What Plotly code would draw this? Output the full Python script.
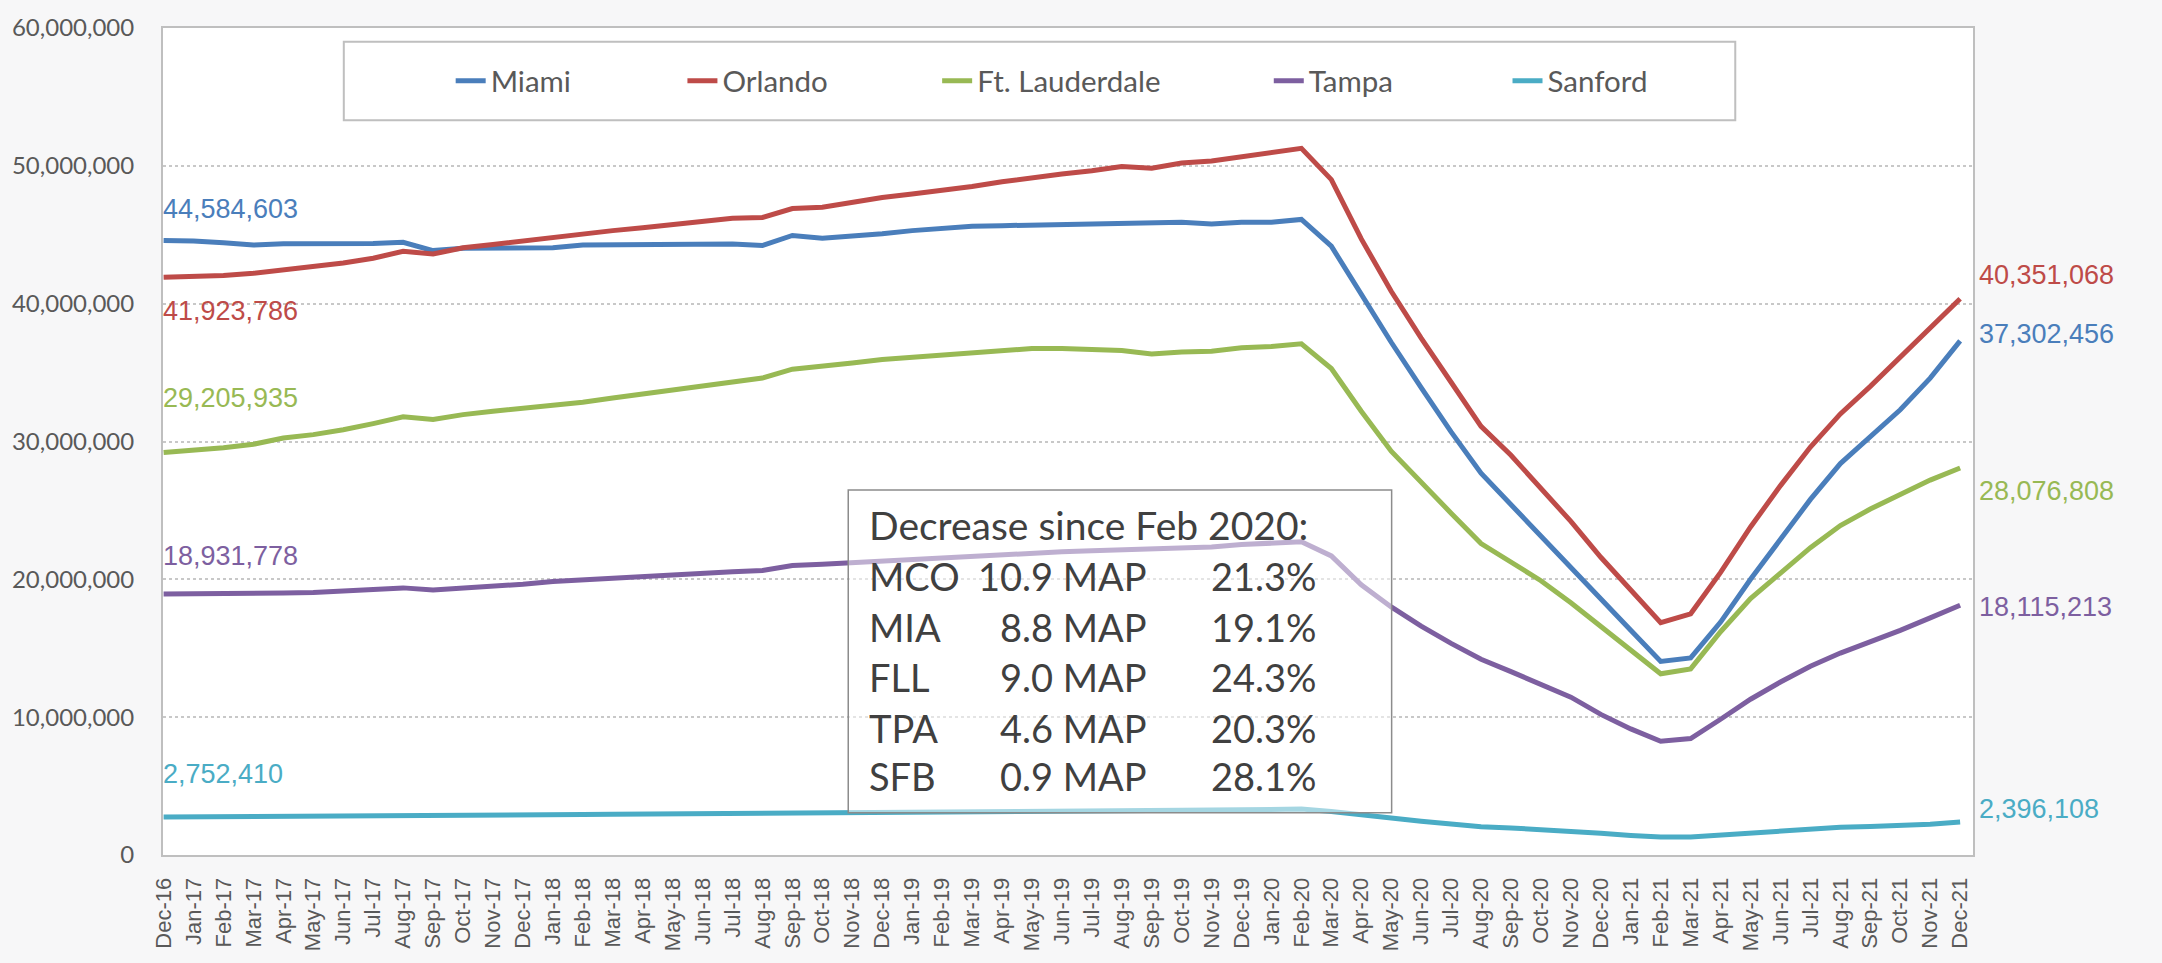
import plotly.graph_objects as go

# ---------------- data ----------------
months = ["Dec-16",
          "Jan-17", "Feb-17", "Mar-17", "Apr-17", "May-17", "Jun-17", "Jul-17", "Aug-17", "Sep-17", "Oct-17", "Nov-17", "Dec-17",
          "Jan-18", "Feb-18", "Mar-18", "Apr-18", "May-18", "Jun-18", "Jul-18", "Aug-18", "Sep-18", "Oct-18", "Nov-18", "Dec-18",
          "Jan-19", "Feb-19", "Mar-19", "Apr-19", "May-19", "Jun-19", "Jul-19", "Aug-19", "Sep-19", "Oct-19", "Nov-19", "Dec-19",
          "Jan-20", "Feb-20", "Mar-20", "Apr-20", "May-20", "Jun-20", "Jul-20", "Aug-20", "Sep-20", "Oct-20", "Nov-20", "Dec-20",
          "Jan-21", "Feb-21", "Mar-21", "Apr-21", "May-21", "Jun-21", "Jul-21", "Aug-21", "Sep-21", "Oct-21", "Nov-21", "Dec-21"]

# passengers, millions (rolling 12-month totals)
miami = [44.584603,
         44.55, 44.42, 44.25, 44.35, 44.35, 44.38, 44.36, 44.45, 43.85, 44.02, 44.05, 44.05,
         44.05, 44.25, 44.27, 44.28, 44.30, 44.32, 44.32, 44.22, 44.95, 44.75, 44.90, 45.08,
         45.30, 45.48, 45.62, 45.66, 45.70, 45.72, 45.76, 45.78, 45.80, 45.90, 45.78, 45.90,
         45.90, 46.11, 44.17, 40.70, 37.20, 33.90, 30.70, 27.70, 25.40, 23.10, 20.90, 18.60,
         16.30, 14.04, 14.30, 16.90, 20.00, 22.90, 25.80, 28.40, 30.30, 32.30, 34.60, 37.302456]

orlando = [41.923786,
           41.95, 42.05, 42.20, 42.45, 42.70, 42.95, 43.30, 43.80, 43.60, 44.05, 44.30, 44.55,
           44.80, 45.10, 45.30, 45.50, 45.75, 45.96, 46.20, 46.25, 46.90, 47.00, 47.35, 47.70,
           47.95, 48.20, 48.50, 48.85, 49.15, 49.40, 49.65, 49.95, 49.82, 50.20, 50.35, 50.65,
           50.90, 51.27, 49.00, 44.70, 40.90, 37.50, 34.30, 31.10, 29.00, 26.60, 24.20, 21.60,
           19.20, 16.85, 17.50, 20.50, 23.80, 26.80, 29.60, 32.00, 34.00, 36.10, 38.20, 40.351068]

ft_lauderdale = [29.205935,
                 29.35, 29.55, 29.80, 30.25, 30.50, 30.85, 31.30, 31.80, 31.60, 31.95, 32.20, 32.40,
                 32.60, 32.85, 33.15, 33.45, 33.75, 34.05, 34.35, 34.60, 35.25, 35.45, 35.70, 35.95,
                 36.10, 36.25, 36.45, 36.60, 36.75, 36.75, 36.72, 36.60, 36.35, 36.50, 36.55, 36.80,
                 36.90, 37.09, 35.30, 32.20, 29.30, 27.00, 24.80, 22.60, 21.30, 19.90, 18.30, 16.60,
                 14.90, 13.15, 13.50, 16.20, 18.60, 20.40, 22.30, 23.90, 25.10, 26.15, 27.20, 28.076808]

tampa = [18.931778,
         18.93, 18.92, 18.93, 19.00, 19.05, 19.15, 19.25, 19.38, 19.22, 19.35, 19.45, 19.65,
         19.85, 19.98, 20.12, 20.25, 20.38, 20.47, 20.55, 20.64, 21.00, 21.10, 21.22, 21.35,
         21.45, 21.55, 21.70, 21.82, 21.92, 22.00, 22.08, 22.15, 22.22, 22.30, 22.35, 22.52,
         22.60, 22.73, 21.70, 19.60, 18.00, 16.60, 15.35, 14.20, 13.30, 12.40, 11.45, 10.20,
         9.15, 8.25, 8.45, 9.85, 11.30, 12.55, 13.70, 14.65, 15.45, 16.30, 17.20, 18.115213]

sanford = [2.752410,
           2.76, 2.77, 2.77, 2.79, 2.81, 2.83, 2.85, 2.88, 2.84, 2.86, 2.88, 2.90,
           2.92, 2.94, 2.96, 2.97, 2.99, 3.00, 3.02, 3.04, 3.06, 3.07, 3.10, 3.11,
           3.12, 3.13, 3.14, 3.16, 3.17, 3.18, 3.20, 3.21, 3.22, 3.24, 3.26, 3.28,
           3.30, 3.33, 3.15, 2.90, 2.68, 2.45, 2.25, 2.05, 1.96, 1.86, 1.72, 1.58,
           1.42, 1.30, 1.30, 1.45, 1.60, 1.76, 1.92, 2.02, 2.07, 2.13, 2.24, 2.396108]

series_names = ["Miami", "Orlando", "Ft. Lauderdale", "Tampa", "Sanford"]
series_values = [miami, orlando, ft_lauderdale, tampa, sanford]

box_title = "Decrease since Feb 2020:"
box_codes = ["MCO", "MIA", "FLL", "TPA", "SFB"]
box_map = ["10.9 MAP", "8.8 MAP", "9.0 MAP", "4.6 MAP", "0.9 MAP"]
box_pct = ["21.3%", "19.1%", "24.3%", "20.3%", "28.1%"]

y_ticks = [0, 10_000_000, 20_000_000, 30_000_000, 40_000_000, 50_000_000, 60_000_000]

# ---------------- styles ----------------
colors = {"Miami": "#4A7EBB", "Orlando": "#BE4B48", "Ft. Lauderdale": "#98B954",
          "Tampa": "#7D5FA0", "Sanford": "#4AACC5"}
# label offsets in px (yshift) at the first and last point
first_label_shift = {"Miami": 31, "Orlando": -34, "Ft. Lauderdale": 54, "Tampa": 38, "Sanford": 43}
last_label_shift = {"Miami": 7, "Orlando": 24, "Ft. Lauderdale": -23, "Tampa": -2, "Sanford": 13}
legend_text_px = {"Miami": 493, "Orlando": 725, "Ft. Lauderdale": 980, "Tampa": 1312, "Sanford": 1551}

W, H = 2162, 963
PL, PR, PT, PB = 161, 1973, 21, 864  # plot area in px


def px_x(px):
    return (px - PL) / (PR - PL)


def px_y(py):
    return (PB - py) / (PB - PT)


TICK_FONT = "Liberation Sans, Arial, sans-serif"
CAL_FONT = "Lato, Open Sans, sans-serif"

fig = go.Figure()
for k, (name, vals) in enumerate(zip(series_names, series_values)):
    fig.add_trace(go.Scatter(
        x=months, y=[v * 1e6 for v in vals], mode="lines", name=name,
        line=dict(color=colors[name], width=5),
        legend="legend" if k == 0 else f"legend{k + 1}",
    ))

annotations = []
for name, vals in zip(series_names, series_values):
    annotations.append(dict(
        x=months[0], y=vals[0] * 1e6, xref="x", yref="y",
        text=f"{round(vals[0] * 1e6):,}", showarrow=False,
        xanchor="left", yanchor="middle", xshift=-3, yshift=first_label_shift[name],
        font=dict(family=TICK_FONT, size=27, color=colors[name])))
    annotations.append(dict(
        x=months[-1], y=vals[-1] * 1e6, xref="x", yref="y",
        text=f"{round(vals[-1] * 1e6):,}", showarrow=False,
        xanchor="left", yanchor="middle", xshift=17, yshift=last_label_shift[name],
        font=dict(family=TICK_FONT, size=27, color=colors[name])))

BOX_FONT = dict(family=CAL_FONT, size=38, color="#404040")
annotations.append(dict(x=px_x(866), y=px_y(528), xref="paper", yref="paper", text=box_title,
                        showarrow=False, xanchor="left", yanchor="middle",
                        font=dict(family=CAL_FONT, size=39, color="#404040")))
row_y = [580, 632, 683, 735, 783]
for code, mp, pct, ry in zip(box_codes, box_map, box_pct, row_y):
    annotations.append(dict(x=px_x(866), y=px_y(ry), xref="paper", yref="paper", text=code,
                            showarrow=False, xanchor="left", yanchor="middle", font=BOX_FONT))
    annotations.append(dict(x=px_x(1148), y=px_y(ry), xref="paper", yref="paper", text=mp,
                            showarrow=False, xanchor="right", yanchor="middle", font=BOX_FONT))
    annotations.append(dict(x=px_x(1208), y=px_y(ry), xref="paper", yref="paper", text=pct,
                            showarrow=False, xanchor="left", yanchor="middle", font=BOX_FONT))

shapes = [
    # legend frame
    dict(type="rect", xref="paper", yref="paper", x0=px_x(342), x1=px_x(1735), y0=px_y(115), y1=px_y(35),
         line=dict(color="#BFBFBF", width=2), fillcolor="white", layer="above"),
    # text box with translucent fill
    dict(type="rect", xref="paper", yref="paper", x0=px_x(847), x1=px_x(1391), y0=px_y(821), y1=px_y(492),
         line=dict(color="#8C8C8C", width=1.5), fillcolor="rgba(255,255,255,0.5)", layer="above"),
]

layout_legends = {}
for k, name in enumerate(series_names):
    key = "legend" if k == 0 else f"legend{k + 1}"
    layout_legends[key] = dict(
        x=px_x(legend_text_px[name] - 44), y=px_y(75), xanchor="left", yanchor="middle",
        orientation="h", bgcolor="rgba(0,0,0,0)", borderwidth=0,
        font=dict(family=CAL_FONT, size=29.5, color="#595959"))

fig.update_layout(
    width=W, height=H,
    margin=dict(l=PL, r=W - PR, t=PT, b=H - PB, pad=0),
    paper_bgcolor="#F7F7F8", plot_bgcolor="white",
    showlegend=True,
    annotations=annotations, shapes=shapes,
    **layout_legends,
)
fig.update_xaxes(
    type="category", range=[-0.02, 60.43],
    tickmode="array", tickvals=months, ticktext=months, tickangle=-90,
    tickfont=dict(family=TICK_FONT, size=22, color="#595959"),
    showgrid=False, showline=True, mirror=True, linecolor="#BFBFBF", linewidth=2,
    ticks="", ticklabelstandoff=12, zeroline=False,
)
fig.update_yaxes(
    range=[0, 60_000_000], tickmode="array", tickvals=y_ticks, tickformat=",d",
    tickfont=dict(family=CAL_FONT, size=24, color="#595959"),
    showgrid=True, gridcolor="#C8C8C8", griddash="dot", gridwidth=1.5,
    showline=True, mirror=True, linecolor="#BFBFBF", linewidth=2,
    ticks="", ticklabelstandoff=22, zeroline=False,
)

fig.write_html("out.html", config={"displayModeBar": False},
               post_script="document.body.style.margin='0';document.body.style.overflow='hidden';")
